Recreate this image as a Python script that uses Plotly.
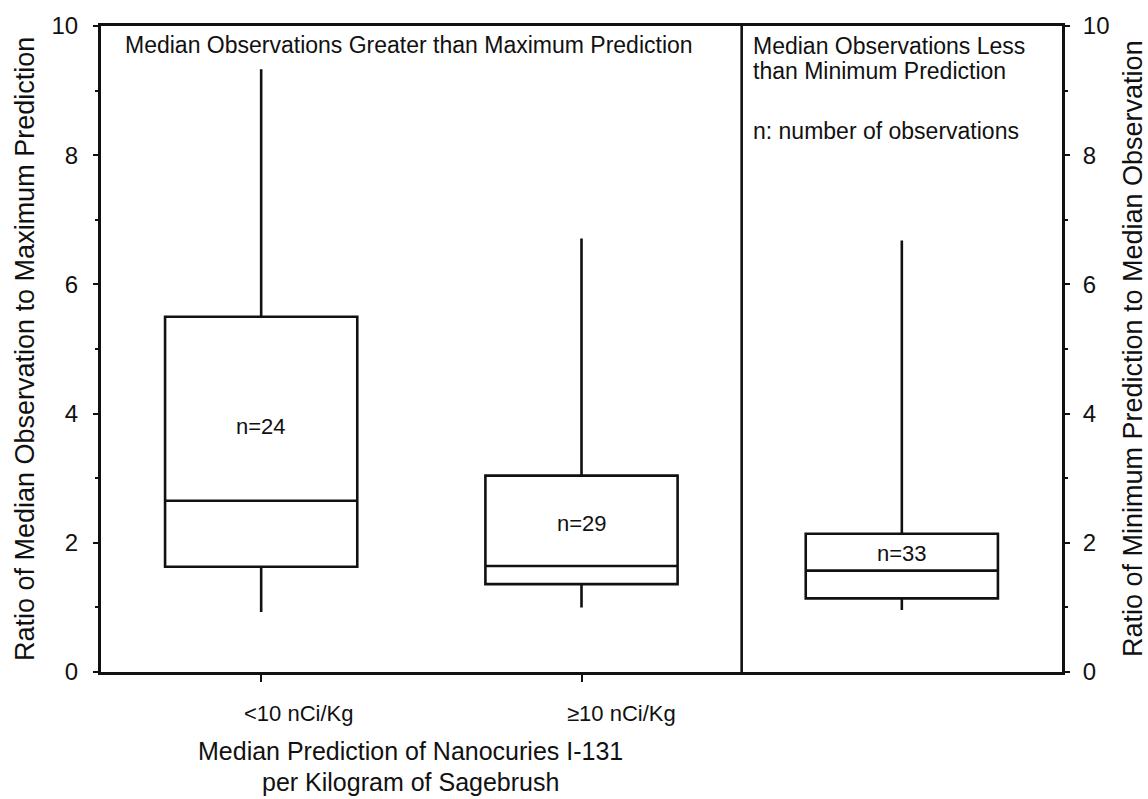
import plotly.graph_objects as go

# Box summaries (ratios)
groups = ["<10 nCi/Kg", "\u226510 nCi/Kg", "less"]
positions = [1, 3, 5]
lower_fence = [0.93, 1.0, 0.96]
q1 = [1.63, 1.36, 1.14]
median = [2.65, 1.64, 1.57]
q3 = [5.5, 3.04, 2.14]
upper_fence = [9.33, 6.71, 6.68]
n_labels = ["n=24", "n=29", "n=33"]
n_label_y = [3.8, 2.3, 1.84]

FONT = "Liberation Sans, Arial, Helvetica, sans-serif"
BLACK = "#111111"

fig = go.Figure()

# first two boxes on the left axis, third on the right axis
for i in range(3):
    fig.add_trace(go.Box(
        x=[positions[i]],
        q1=[q1[i]], median=[median[i]], q3=[q3[i]],
        lowerfence=[lower_fence[i]], upperfence=[upper_fence[i]],
        width=1.2, whiskerwidth=0,
        line=dict(color=BLACK, width=2.6),
        fillcolor="white",
        boxpoints=False,
        showlegend=False,
        yaxis="y2" if i == 2 else "y",
    ))

axis_common = dict(
    range=[0, 10], dtick=2, tick0=0,
    showgrid=False, zeroline=False,
    showline=True, linecolor=BLACK, linewidth=3,
    ticks="outside", ticklen=5, tickwidth=2, tickcolor=BLACK,
    minor=dict(dtick=1, ticks="outside", ticklen=3, tickwidth=1.5, tickcolor=BLACK),
    tickfont=dict(family=FONT, size=24, color=BLACK),
)

fig.update_layout(
    width=1148, height=799,
    margin=dict(l=101, r=86, t=23, b=127),
    paper_bgcolor="white", plot_bgcolor="white",
    xaxis=dict(
        range=[0, 6], showgrid=False, zeroline=False,
        showline=True, mirror=True, linecolor=BLACK, linewidth=3,
        tickvals=[1, 3], ticktext=["", ""],
        ticks="outside", ticklen=7, tickwidth=2, tickcolor=BLACK,
    ),
    yaxis=dict(**axis_common, side="left", ticklabelstandoff=10),
    yaxis2=dict(**axis_common, side="right", overlaying="y", ticklabelstandoff=8),
)

# divider between the two panels
fig.add_shape(type="line", xref="x", yref="paper", x0=4, x1=4, y0=0, y1=1,
              line=dict(color=BLACK, width=2.6))

def note(text, x, y, size, xref="x", yref="paper", xanchor="center", angle=0):
    fig.add_annotation(text=text, x=x, y=y, xref=xref, yref=yref,
                       xanchor=xanchor, yanchor="middle", showarrow=False,
                       textangle=angle,
                       font=dict(family=FONT, size=size, color=BLACK))

# n labels inside boxes
for i in range(3):
    fig.add_annotation(text=n_labels[i], x=positions[i], y=n_label_y[i],
                       xref="x", yref="y", showarrow=False,
                       font=dict(family=FONT, size=22, color=BLACK))

# category labels under the axis
note(groups[0], 1.23, -0.065, 22)
note(groups[1], 3.25, -0.065, 22)

# x-axis title
note("Median Prediction of Nanocuries I-131", 1.93, -0.123, 25)
note("per Kilogram of Sagebrush", 1.93, -0.170, 25)

# panel headings
note("Median Observations Greater than Maximum Prediction", 0.1375, 0.9706, 23, xanchor="left")
note("Median Observations Less", 4.06, 0.969, 23, xanchor="left")
note("than Minimum Prediction", 4.06, 0.931, 23, xanchor="left")
note("n: number of observations", 4.06, 0.838, 23, xanchor="left")

# axis titles
note("Ratio of Median Observation to Maximum Prediction", -0.079, 0.5, 27,
     xref="paper", angle=-90)
note("Ratio of Minimum Prediction to Median Observation", 1.074, 0.5, 27,
     xref="paper", angle=-90)

fig.write_html("out.html")
